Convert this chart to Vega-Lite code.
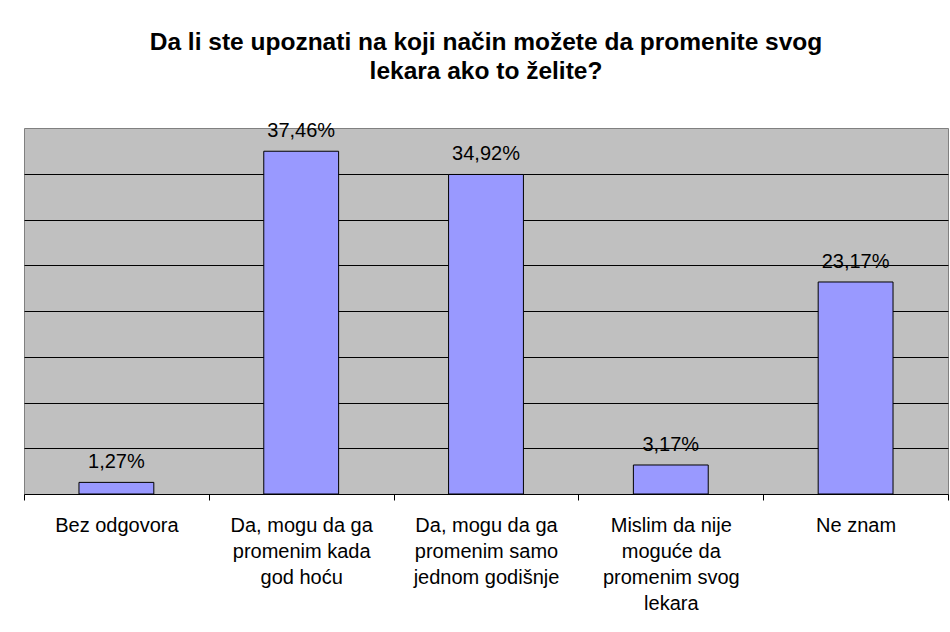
{
  "$schema": "https://vega.github.io/schema/vega-lite/v6.json",
  "width": 924,
  "height": 366,
  "autosize": "none",
  "padding": {"left": 24, "top": 128, "right": 2, "bottom": 138},
  "background": "white",
  "title": {
    "text": ["Da li ste upoznati na koji način možete da promenite svog", "lekara ako to želite?"],
    "font": "Liberation Sans",
    "fontSize": 24.5,
    "fontWeight": "bold",
    "color": "black",
    "lineHeight": 29,
    "anchor": "middle",
    "offset": 37
  },
  "data": {
    "values": [
      {"odgovor": "Bez odgovora", "udeo": 0.0127},
      {"odgovor": "Da, mogu da ga|promenim kada|god hoću", "udeo": 0.3746},
      {"odgovor": "Da, mogu da ga|promenim samo|jednom godišnje", "udeo": 0.3492},
      {"odgovor": "Mislim da nije|moguće da|promenim svog|lekara", "udeo": 0.0317},
      {"odgovor": "Ne znam", "udeo": 0.2317}
    ]
  },
  "encoding": {
    "x": {
      "field": "odgovor",
      "type": "nominal",
      "sort": null,
      "scale": {"paddingInner": 0, "paddingOuter": 0},
      "axis": {
        "title": null,
        "domainColor": "black",
        "domainWidth": 1,
        "tickColor": "black",
        "tickSize": 6,
        "tickWidth": 1,
        "tickBand": "extent",
        "labelAngle": 0,
        "labelFont": "Liberation Sans",
        "labelFontSize": 20,
        "labelColor": "black",
        "labelLineHeight": 26,
        "labelPadding": 15,
        "labelBaseline": "top",
        "labelOverlap": false,
        "labelLimit": 0,
        "labelExpr": "split(datum.label, '|')",
        "grid": false
      }
    },
    "y": {
      "field": "udeo",
      "type": "quantitative",
      "scale": {"domain": [0, 0.4], "nice": false},
      "axis": {
        "title": null,
        "labels": false,
        "ticks": false,
        "domain": false,
        "grid": true,
        "gridColor": "black",
        "gridWidth": 1,
        "gridOpacity": 1,
        "values": [0.05, 0.1, 0.15, 0.2, 0.25, 0.3, 0.35]
      }
    }
  },
  "layer": [
    {
      "mark": {"type": "bar", "fill": "#9999FF", "stroke": "black", "strokeWidth": 1, "width": {"band": 0.405}}
    },
    {
      "mark": {"type": "text", "baseline": "alphabetic", "dy": -14, "font": "Liberation Sans", "fontSize": 20, "fill": "black"},
      "encoding": {"text": {"field": "udeo", "type": "quantitative", "format": ".2%"}}
    }
  ],
  "config": {
    "view": {"fill": "#C0C0C0", "stroke": "#808080", "strokeWidth": 1},
    "locale": {"number": {"decimal": ",", "thousands": ".", "grouping": [3], "currency": ["", " €"]}}
  }
}
